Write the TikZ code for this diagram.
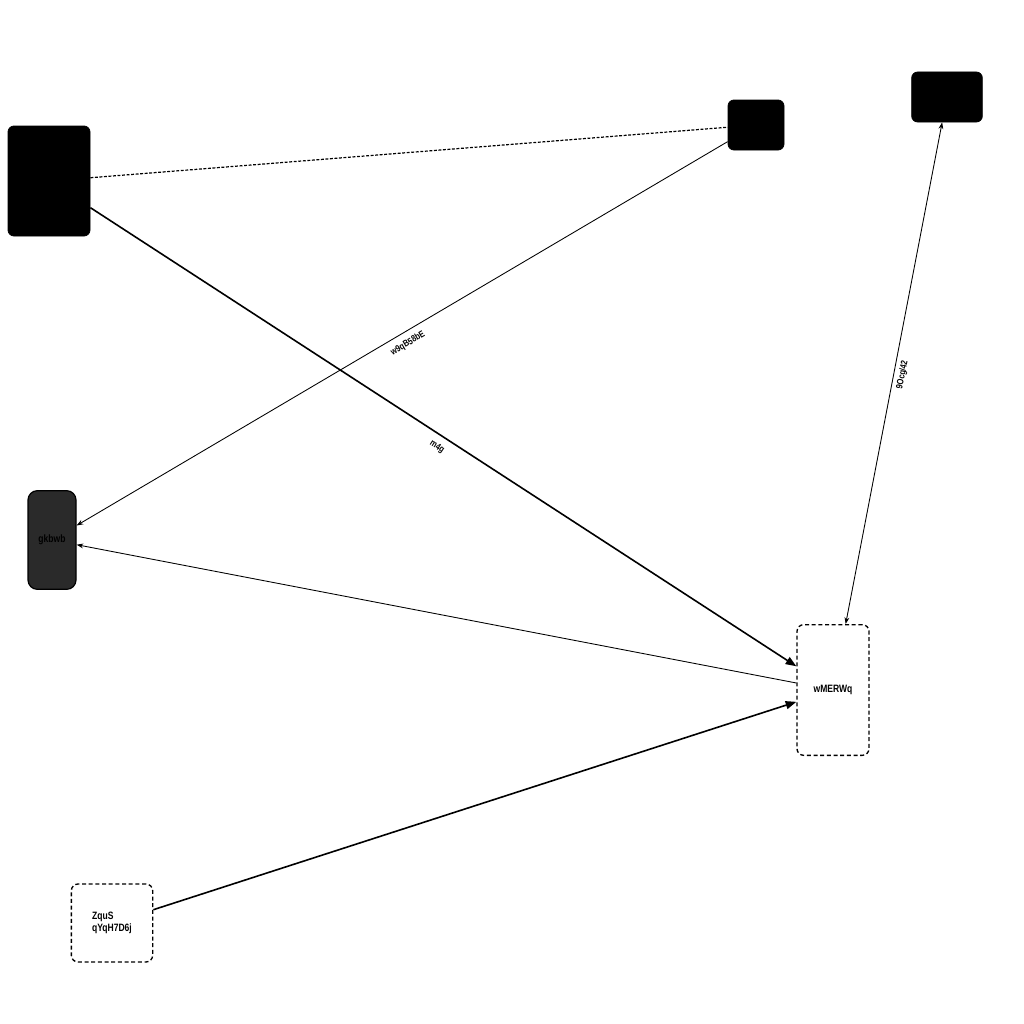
\documentclass[tikz,border=0pt]{standalone}
\usepackage{fontspec}
\setmainfont{Liberation Sans}
\newfontfamily\condfont[FakeStretch=0.8]{Liberation Sans}
\usetikzlibrary{arrows.meta}
\definecolor{darkbox}{HTML}{2A2A2A}
\tikzset{
  blackbox/.style={draw=black, fill=black, rounded corners=4.5pt, line width=0.6pt},
  graybox/.style={draw=black, fill=darkbox, rounded corners=7pt, line width=0.9pt, font=\condfont\bfseries\fontsize{8}{9}\selectfont},
  dashbox/.style={draw=black, dash pattern=on 3pt off 2pt, rounded corners=5pt, line width=1pt, font=\condfont\bfseries\fontsize{8}{9}\selectfont, align=left},
  thickarrow/.style={line width=1.2pt, -{Triangle[length=8pt,width=6pt]}},
  thinarrow/.style={line width=0.65pt, -{Stealth[length=5pt,width=3.6pt]}},
  thindouble/.style={line width=0.65pt, {Stealth[length=5pt,width=3.6pt]}-{Stealth[length=5pt,width=3.6pt]}},
  elabel/.style={font=\condfont\bfseries\fontsize{7}{8}\selectfont, sloped, below, inner sep=1pt, yshift=-4pt}
}
\begin{document}
\begin{tikzpicture}[x=0.75pt, y=-0.75pt]
\useasboundingbox (0,0) rectangle (1024,1024);
\node[blackbox, minimum width=61.5pt, minimum height=82.5pt] (A) at (49,181) {};
\node[blackbox, minimum width=42pt, minimum height=37.5pt] (B) at (756,125) {};
\node[blackbox, minimum width=53pt, minimum height=37.5pt] (C) at (947,97) {};
\node[graybox, minimum width=36pt, minimum height=74pt] (D) at (52,540) {gkbwb};
\node[dashbox, minimum width=54pt, minimum height=98pt] (E) at (833,690) {wMERWq};
\node[dashbox, minimum width=61pt, minimum height=58.5pt] (F) at (112,923) {ZquS\\qYqH7D6j};

\draw[line width=0.9pt, dash pattern=on 2.2pt off 1.2pt] (A) -- (B);
\draw[thickarrow] (A) -- node[elabel] {m4g} (E);
\draw[thinarrow] (B) -- node[elabel] {w9qB58bE} (D);
\draw[thinarrow] (E) -- (D);
\draw[thickarrow] (F) -- (E);
\draw[thindouble] (C) -- node[elabel, yshift=2pt] {9Ocg/42} (E);
\end{tikzpicture}
\end{document}
